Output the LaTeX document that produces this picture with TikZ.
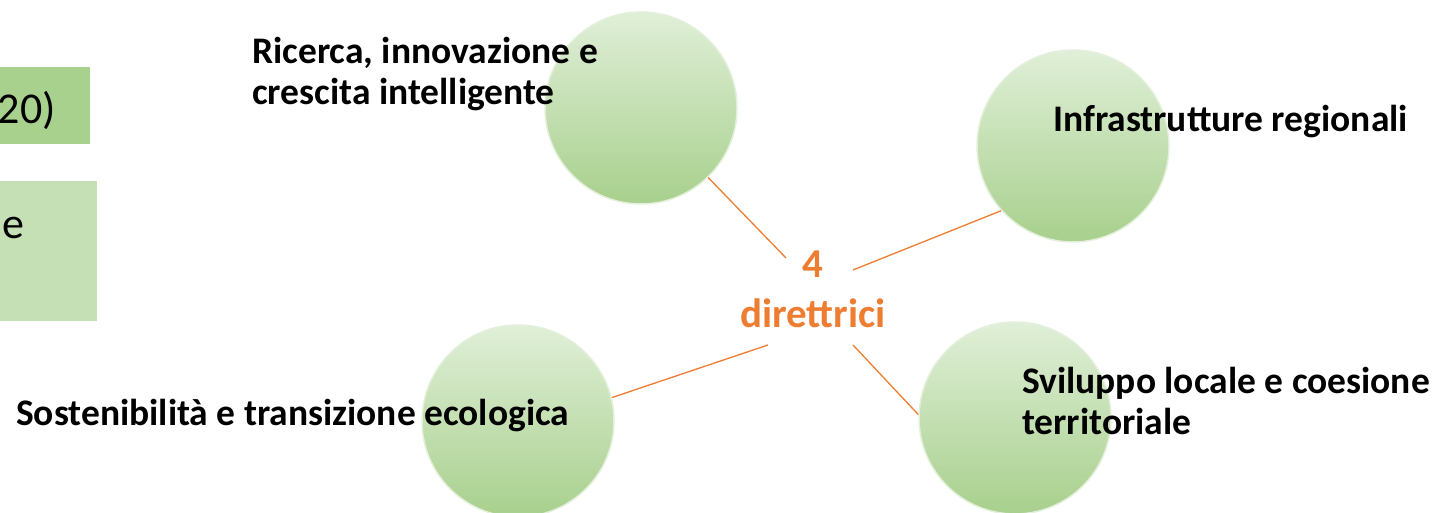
\documentclass[tikz,border=0pt]{standalone}
\usepackage{fontspec}
\setmainfont{Carlito}
\definecolor{topgreen}{RGB}{224,239,216}
\definecolor{botgreen}{RGB}{168,208,141}
\definecolor{ringgreen}{RGB}{228,240,220}
\definecolor{boxdark}{RGB}{169,209,142}
\definecolor{boxlight}{RGB}{197,224,180}
\definecolor{accent}{RGB}{237,125,49}
\tikzset{
  bubble/.style={circle, minimum size=192pt, inner sep=0pt, top color=topgreen, bottom color=botgreen, draw=ringgreen, line width=1.5pt},
  conn/.style={draw=accent, line width=1.3pt},
  label/.style={font=\bfseries\fontsize{37.5}{41}\selectfont, align=left, inner sep=0pt, text=black},
  hub/.style={font=\bfseries\fontsize{41}{50}\selectfont, align=center, inner sep=0pt, text=accent},
  boxtext/.style={font=\fontsize{44}{53}\selectfont, inner sep=0pt, text=black}
}
\begin{document}
\begin{tikzpicture}[x=1pt,y=1pt]
\useasboundingbox (0,0) rectangle (1435,513);
% left boxes
\node[fill=boxdark, minimum width=90pt, minimum height=77pt, inner sep=0pt, anchor=south west] (b1) at (0,369) {};
\node[fill=boxlight, minimum width=97pt, minimum height=140pt, inner sep=0pt, anchor=south west] (b2) at (0,192) {};
\node[boxtext, anchor=base east] (t1) at (56,389) {20)};
\node[boxtext, anchor=base west] (t2) at (2,274) {e};
% circles
\node[bubble] (c1) at (641,405) {};
\node[bubble] (c2) at (1073,367) {};
\node[bubble] (c3) at (518,92) {};
\node[bubble] (c4) at (1015,95) {};
% hub (base anchor = baseline of last line)
\node[hub, anchor=base] (hub) at (813,185) {4\\direttrici};
\coordinate (e1) at (786,255);
\coordinate (e2) at (853,243);
\coordinate (e3) at (768,168);
\coordinate (e4) at (853,168);
\draw[conn] (c1.-46) -- (e1);
\draw[conn] (c2.222.5) -- (e2);
\draw[conn] (c3.14) -- (e3);
\draw[conn] (c4.178) -- (e4);
% labels
\node[label, anchor=base west] (l1) at (252,408) {Ricerca, innovazione e\\crescita intelligente};
\node[label, anchor=base west] (l2) at (1053,381) {Infrastrutture regionali};
\node[label, anchor=base west] (l3) at (16,87) {Sostenibilità e transizione ecologica};
\node[label, anchor=base west] (l4) at (1022,78) {Sviluppo locale e coesione\\territoriale};
\end{tikzpicture}
\end{document}
